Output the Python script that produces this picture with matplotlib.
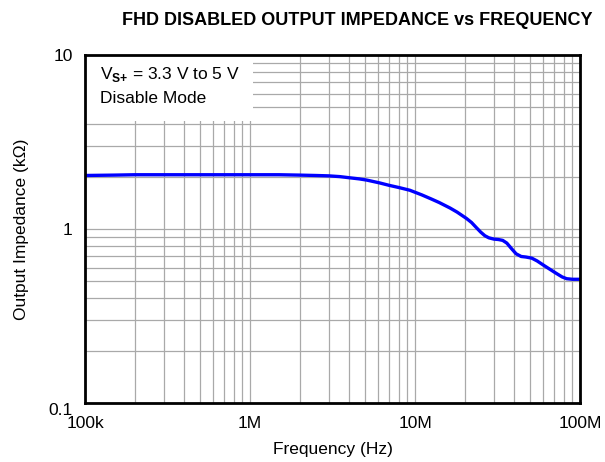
import matplotlib
matplotlib.use("Agg")
import matplotlib.pyplot as plt
from matplotlib.patches import Rectangle
from matplotlib.ticker import FixedLocator, FixedFormatter, NullFormatter, LogLocator

plt.rcParams['font.family'] = ['Liberation Sans', 'DejaVu Sans']
plt.rcParams['mathtext.fontset'] = 'custom'
plt.rcParams['mathtext.rm'] = 'Liberation Sans'
plt.rcParams['mathtext.bf'] = 'Liberation Sans:bold'

# disabled-mode output impedance (kOhm) vs frequency (Hz)
freq = [1e5, 1.5e5, 2e5, 3e5, 5e5, 7e5, 1e6, 1.5e6, 2e6, 2.5e6, 3e6, 3.5e6, 4e6,
        4.6e6, 5.1e6, 6.1e6, 7e6, 8e6, 9.3e6, 11e6, 12.5e6, 14e6, 16.3e6, 18e6,
        20.5e6, 22e6, 23.5e6, 25e6, 26.5e6, 28e6, 30e6, 32e6, 34e6, 36e6, 38.5e6,
        41e6, 44e6, 47e6, 51e6, 55e6, 60e6, 66e6, 72e6, 78e6, 83e6, 90e6, 100e6]
zout = [2.03, 2.04, 2.05, 2.05, 2.05, 2.05, 2.05, 2.05, 2.04, 2.03, 2.02, 2.0, 1.97,
        1.94, 1.91, 1.84, 1.78, 1.73, 1.67, 1.57, 1.49, 1.42, 1.32, 1.25,
        1.15, 1.09, 1.02, 0.96, 0.915, 0.89, 0.875, 0.87, 0.86, 0.83, 0.77,
        0.72, 0.695, 0.69, 0.68, 0.655, 0.62, 0.585, 0.555, 0.53, 0.518, 0.514, 0.514]

x_ticks = [1e5, 1e6, 1e7, 1e8]
x_labels = ["100k", "1M", "10M", "100M"]
y_ticks = [0.1, 1, 10]
y_labels = ["0.1", "1", "10"]

fig = plt.figure(figsize=(6.05, 4.62), dpi=100)
ax = fig.add_axes([0.1405, 0.1277, 0.8182, 0.7533])

ax.plot(freq, zout, color="#0000ff", lw=2.4, zorder=3, solid_capstyle="butt")

ax.set_xscale("log")
ax.set_yscale("log")
ax.set_xlim(1e5, 1e8)
ax.set_ylim(0.1, 10)

ax.xaxis.set_major_locator(FixedLocator(x_ticks))
ax.xaxis.set_major_formatter(FixedFormatter(x_labels))
ax.yaxis.set_major_locator(FixedLocator(y_ticks))
ax.yaxis.set_major_formatter(FixedFormatter(y_labels))
ax.xaxis.set_minor_locator(LogLocator(base=10, subs=range(2, 10)))
ax.yaxis.set_minor_locator(LogLocator(base=10, subs=range(2, 10)))
ax.xaxis.set_minor_formatter(NullFormatter())
ax.yaxis.set_minor_formatter(NullFormatter())

ax.grid(True, which="both", color="#a9a9a9", lw=0.9)
ax.tick_params(which="both", length=0, labelsize=12.5)
ax.tick_params(axis="x", pad=9)
ax.tick_params(axis="y", pad=9)
for sp in ax.spines.values():
    sp.set_linewidth(2)
    sp.set_zorder(5)

# nudge the bottom y label down a bit so it clears the axis corner
ax.get_yticklabels()[0].set_verticalalignment("top")
ax.get_yticklabels()[0].set_y(0.1)

ax.set_xlabel("Frequency (Hz)", fontsize=12.5, labelpad=8)
ax.set_ylabel("Output Impedance (k\u03a9)", fontsize=12.5, labelpad=14)

# white panel behind the condition notes
ax.add_patch(Rectangle((0, 0.81), 0.34, 0.19, transform=ax.transAxes,
                       fc="white", ec="none", zorder=2.5))
ax.text(0.03, 0.943, "V$_{\\mathbf{S{+}}}$ = 3.3 V to 5 V", transform=ax.transAxes,
        ha="left", va="center", fontsize=12.5, zorder=4)
ax.text(0.03, 0.876, "Disable Mode", transform=ax.transAxes,
        ha="left", va="center", fontsize=12.5, zorder=4)

fig.suptitle("FHD DISABLED OUTPUT IMPEDANCE vs FREQUENCY", x=0.59, y=0.975,
             fontsize=13, fontweight="bold")

fig.savefig("out.png", dpi=100)
